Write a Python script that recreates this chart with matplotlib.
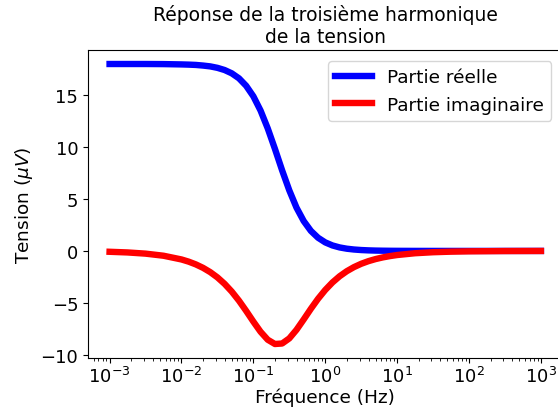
import numpy as np
import matplotlib
matplotlib.use("Agg")
import matplotlib.pyplot as plt

log_freq = [-3, -2.75, -2.5, -2.25,
            -2.0, -1.9, -1.8, -1.7, -1.6, -1.5, -1.4, -1.3, -1.2, -1.1,
            -1.0, -0.9, -0.8, -0.7, -0.6, -0.5, -0.4, -0.3, -0.2, -0.1,
            0.0, 0.1, 0.2, 0.3, 0.4, 0.5, 0.6, 0.7, 0.8, 0.9,
            1.0, 1.25, 1.5, 1.75, 2.0, 2.5, 3.0]
real_part = [18.0, 18.0, 18.0, 17.99,
             17.96, 17.94, 17.91, 17.85, 17.77, 17.63, 17.42, 17.10, 16.62, 15.90,
             14.89, 13.52, 11.80, 9.83, 7.76, 5.83, 4.17, 2.88, 1.93, 1.27,
             0.822, 0.528, 0.337, 0.214, 0.136, 0.086, 0.054, 0.034, 0.022, 0.014,
             0.009, 0.003, 0.001, 0.0, 0.0, 0.0, 0.0]
imag_part = [-0.082, -0.146, -0.26, -0.462,
             -0.821, -1.032, -1.297, -1.628, -2.040, -2.548, -3.171, -3.918, -4.792, -5.775,
             -6.806, -7.781, -8.551, -8.962, -8.915, -8.423, -7.597, -6.600, -5.572, -4.608,
             -3.758, -3.036, -2.438, -1.950, -1.556, -1.239, -0.986, -0.784, -0.624, -0.496,
             -0.394, -0.221, -0.125, -0.070, -0.039, -0.012, -0.004]

freq = [10 ** v for v in log_freq]

fig = plt.figure(figsize=(5.58, 4.14), dpi=100)
ax = fig.add_axes([88/558, (414-359)/414, (562.5-88)/558, (359-51)/414])
ax.plot(freq, real_part, color="blue", lw=4.6, label="Partie réelle")
ax.plot(freq, imag_part, color="red", lw=4.6, label="Partie imaginaire")
ax.set_xscale("log")
ax.set_xticks([1e-3, 1e-2, 1e-1, 1e0, 1e1, 1e2, 1e3])
ax.tick_params(labelsize=13)
ax.tick_params(axis="x", pad=2.5)
ax.set_xlabel("Fréquence (Hz)", fontsize=13.3, labelpad=1)
ax.set_ylabel(r"Tension ($\mu V$)", fontsize=13.3)
ax.set_title("Réponse de la troisième harmonique\nde la tension", fontsize=13.5)
ax.legend(fontsize=13.3, loc="upper right", borderaxespad=0.6)
fig.savefig("out.png", dpi=100)
